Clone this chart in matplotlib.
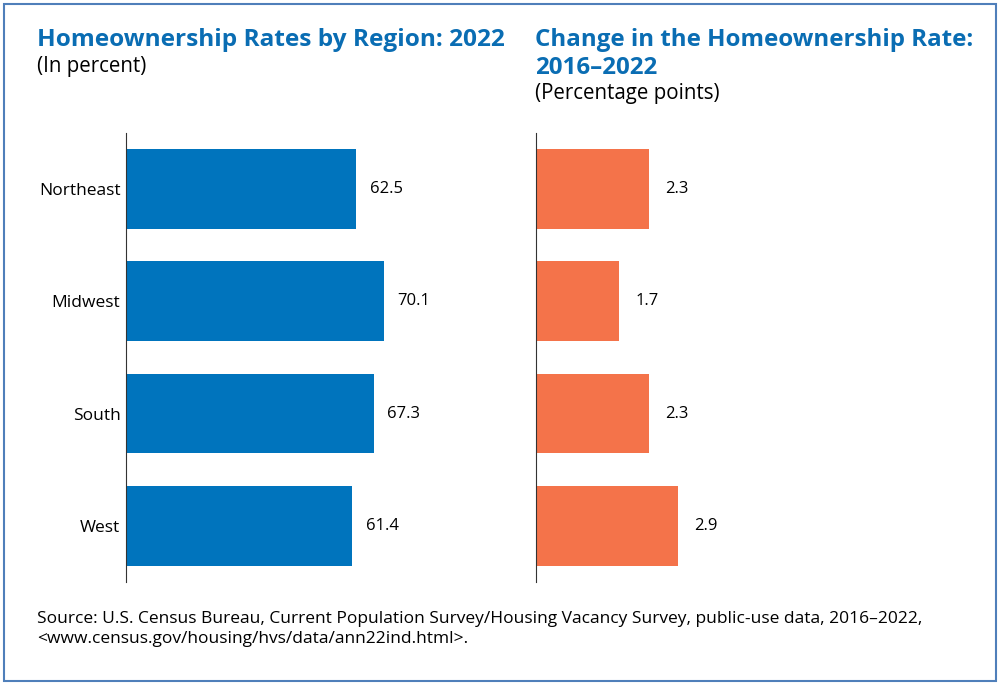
import matplotlib.pyplot as plt
from matplotlib.patches import Rectangle

regions = ["Northeast", "Midwest", "South", "West"]
rate_2022 = [62.5, 70.1, 67.3, 61.4]
change_16_22 = [2.3, 1.7, 2.3, 2.9]

BLUE = "#0074bd"
ORANGE = "#f4734a"
TITLE_BLUE = "#0a6db3"

plt.rcParams['font.family'] = ['Open Sans', 'DejaVu Sans']

fig = plt.figure(figsize=(10, 6.85), dpi=100)

ax1 = fig.add_axes([0.126, 0.1504, 0.374, 0.6555])
ax2 = fig.add_axes([0.536, 0.1504, 0.45, 0.6555])

ypos = list(range(len(regions)))

ax1.barh(ypos, rate_2022, height=0.71, color=BLUE)
ax1.set_xlim(0, 374 / 3.68)
for y, v in zip(ypos, rate_2022):
    ax1.text(v + 3.7, y, f"{v:.1f}", va="center", ha="left", fontsize=12)

ax2.barh(ypos, change_16_22, height=0.71, color=ORANGE)
ax2.set_xlim(0, 450 / 49.0)
for y, v in zip(ypos, change_16_22):
    ax2.text(v + 0.33, y, f"{v:.1f}", va="center", ha="left", fontsize=12)

for ax in (ax1, ax2):
    ax.set_ylim(3.5, -0.5)
    for s in ("top", "right", "bottom"):
        ax.spines[s].set_visible(False)
    ax.spines["left"].set_color("#333333")
    ax.spines["left"].set_linewidth(0.8)
    ax.set_xticks([])
    ax.tick_params(axis="y", length=0, pad=4)

ax1.set_yticks(ypos, regions, fontsize=12.5)
ax2.set_yticks([])

fig.text(0.037, 0.941, "Homeownership Rates by Region: 2022", fontsize=17.6,
         fontweight="bold", color=TITLE_BLUE, va="center")
fig.text(0.037, 0.903, "(In percent)", fontsize=14.8, va="center")
fig.text(0.535, 0.941, "Change in the Homeownership Rate:", fontsize=17.4,
         fontweight="bold", color=TITLE_BLUE, va="center")
fig.text(0.535, 0.900, "2016\u20132022", fontsize=17.4,
         fontweight="bold", color=TITLE_BLUE, va="center")
fig.text(0.535, 0.864, "(Percentage points)", fontsize=14.8, va="center")

src = ("Source: U.S. Census Bureau, Current Population Survey/Housing Vacancy Survey, public-use data, 2016\u20132022,\n"
       "<www.census.gov/housing/hvs/data/ann22ind.html>.")
fig.text(0.037, 0.0818, src, fontsize=12.5, va="center", linespacing=1.3)

fig.patches.append(Rectangle((0.004, 0.006), 0.992, 0.988, transform=fig.transFigure,
                             fill=False, edgecolor="#4f7fba", linewidth=1.5))

plt.savefig("out.png", dpi=100)
